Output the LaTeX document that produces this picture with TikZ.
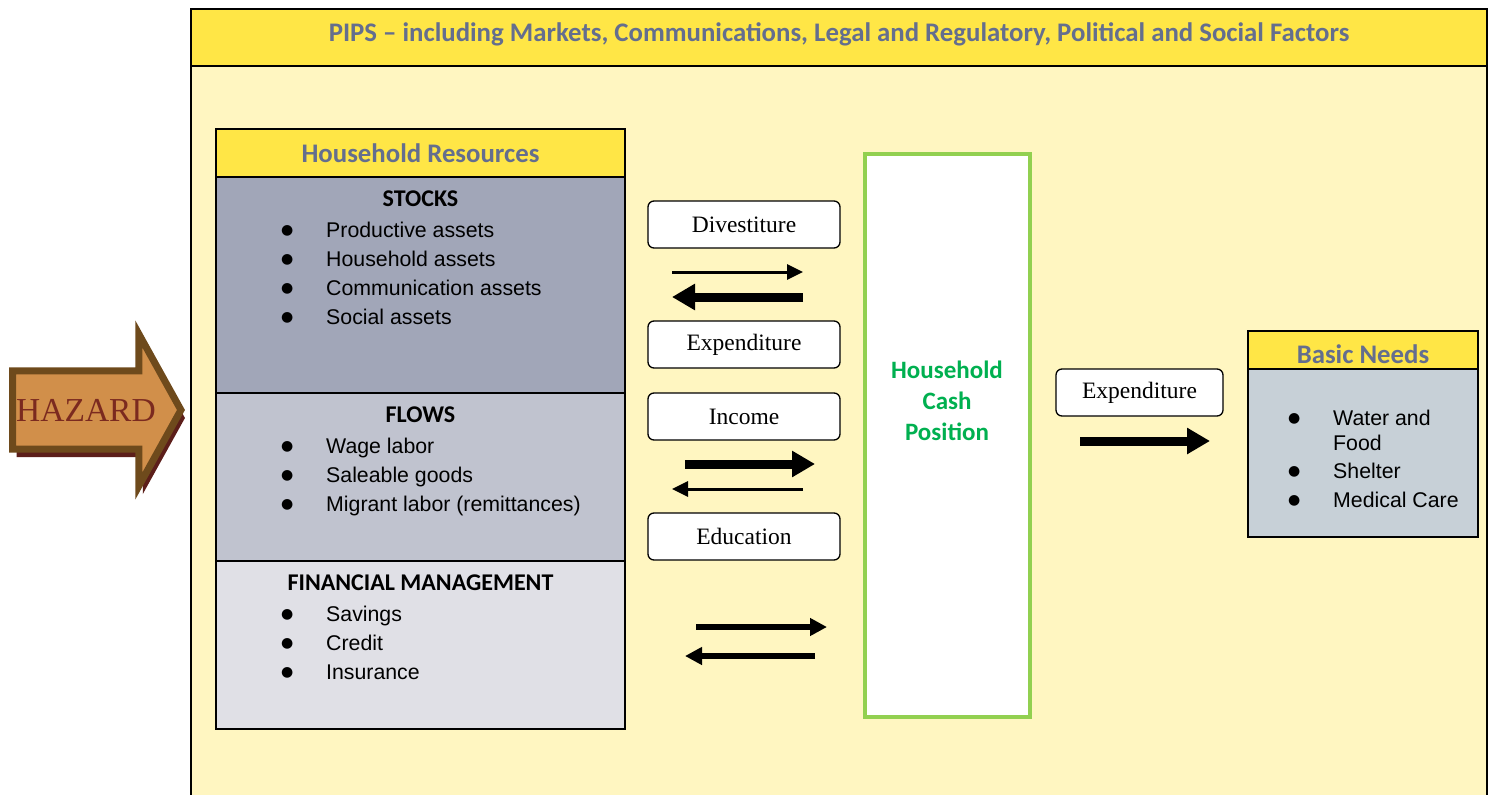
\documentclass[tikz,border=0pt]{standalone}
\usepackage{fontspec}
\setmainfont{Liberation Serif}
\setsansfont{Liberation Sans}
\newfontfamily\carlito{Carlito}
\newfontfamily\dejavu{DejaVu Sans}
\usetikzlibrary{shapes.arrows, arrows.meta, positioning, calc, shadows}

\definecolor{pipsyellow}{HTML}{FFE646}
\definecolor{pipsbg}{HTML}{FFF6C1}
\definecolor{headblue}{HTML}{646E8E}
\definecolor{stockfill}{HTML}{A1A6B8}
\definecolor{flowfill}{HTML}{C0C3CF}
\definecolor{finfill}{HTML}{E0E0E6}
\definecolor{needfill}{HTML}{C7D0D7}
\definecolor{cashframe}{HTML}{92D050}
\definecolor{cashtext}{HTML}{00B050}
\definecolor{hazfill}{HTML}{D18F4A}
\definecolor{hazline}{HTML}{6E4A1C}
\definecolor{hazshadow}{HTML}{5C1E1A}
\definecolor{haztext}{HTML}{7B2A1F}

\newcommand{\itm}[1]{\makebox[45pt][l]{\raisebox{2.5pt}{\dejavu\fontsize{14}{14}\selectfont ●}}#1}

\begin{document}
\begin{tikzpicture} [
    x=1pt, y=-1pt,
    box/.style={rectangle, draw=black, line width=1.5pt, outer sep=0pt, inner sep=0pt, minimum width=409pt},
    yellowhead/.style={box, fill=pipsyellow, text=headblue, font=\carlito\bfseries\fontsize{26.8}{30}\selectfont},
    boxhead/.style={inner sep=0pt, font=\carlito\bfseries\fontsize{24}{28}\selectfont},
    itemlist/.style={anchor=north west, inner sep=0pt, align=left, font=\sffamily\fontsize{21.3}{29}\selectfont},
    tagbox/.style={rectangle, rounded corners=6pt, draw=black, line width=1.3pt, fill=white, outer sep=0pt, minimum width=192pt, minimum height=47pt, font=\fontsize{23.5}{26}\selectfont},
    thinarr/.style={line width=3pt, -{Triangle[length=16pt, width=15pt]}},
    midarr/.style={line width=6pt, -{Triangle[length=17pt, width=17pt]}},
    thickarr/.style={line width=9pt, -{Triangle[length=23pt, width=25pt]}}
]
\useasboundingbox (0,0) rectangle (1494,795);

% Frame and PIPS band
\node[box, fill=pipsbg, minimum width=1296pt, minimum height=830pt, anchor=north west] (frame) at (191,9) {};
\node[yellowhead, minimum width=1296pt, minimum height=57pt, anchor=north west, text height=19pt, text depth=11pt] (pips) at (191,9) {PIPS – including Markets, Communications, Legal and Regulatory, Political and Social Factors};

% Hazard
\node[single arrow, draw=hazline, line width=7pt, fill=hazfill, minimum height=157.5pt, minimum width=145pt, single arrow head extend=37pt, single arrow tip angle=122, inner xsep=0pt, inner ysep=24.5pt, text=haztext, font=\fontsize{33.5}{36}\selectfont, drop shadow={shadow xshift=4pt, shadow yshift=-8pt, fill=hazshadow, opacity=1}] (hazard) at (86,410) {HAZARD};

% Household resources
\node[yellowhead, minimum height=48pt] (hhres) at (420.5,153) {Household Resources};
\node[box, fill=stockfill, minimum height=216pt, below=0pt of hhres] (stocks) {};
\node[box, fill=flowfill, minimum height=168pt, below=0pt of stocks] (flows) {};
\node[box, fill=finfill, minimum height=168pt, below=0pt of flows] (finmgmt) {};

\node[boxhead, below=14pt of stocks.north] (stocks_head) {STOCKS};
\node[itemlist] (stocks_items) at ($(stocks.north west)+(65,44.5)$) {\itm{Productive assets}\\\itm{Household assets}\\\itm{Communication assets}\\\itm{Social assets}};
\node[boxhead, below=14pt of flows.north] (flows_head) {FLOWS};
\node[itemlist] (flows_items) at ($(flows.north west)+(65,44.5)$) {\itm{Wage labor}\\\itm{Saleable goods}\\\itm{Migrant labor (remittances)}};
\node[boxhead, below=14pt of finmgmt.north] (fin_head) {FINANCIAL MANAGEMENT};
\node[itemlist] (fin_items) at ($(finmgmt.north west)+(65,44.5)$) {\itm{Savings}\\\itm{Credit}\\\itm{Insurance}};

% Exchange labels
\node[tagbox] (divest) at (744,224.5) {Divestiture};
\node[tagbox, below=73pt of divest] (expend) {Expenditure};
\node[tagbox, below=25pt of expend] (income) {Income};
\node[tagbox, below=73pt of income] (educ) {Education};

% Cash position
\node[rectangle, draw=cashframe, line width=4pt, fill=white, minimum width=165pt, minimum height=563pt] (cash) at (947.5,435.5) {};
\node[text=cashtext, align=center, font=\carlito\bfseries\fontsize{25}{31}\selectfont] (cash_label) at (947,401) {Household\\Cash\\Position};

% Basic needs
\node[tagbox, minimum width=167pt] (spend) at (1139.5,392.5) {Expenditure};
\node[yellowhead, minimum width=230pt, minimum height=38pt, text height=27pt, text depth=0pt] (needs_head) at (1363,350) {Basic Needs};
\node[box, fill=needfill, minimum width=230pt, minimum height=168pt, below=0pt of needs_head] (needs) {};
\node[itemlist, font=\sffamily\fontsize{21.3}{25}\selectfont] (needs_items) at ($(needs.north west)+(40,40.5)$) {\itm{Water and}\\\makebox[45pt]{}Food\\[3pt]\itm{Shelter}\\[4pt]\itm{Medical Care}};

% Arrow ends
\coordinate (div_out_a) at (672,272);
\coordinate (div_out_b) at (803,272);
\coordinate (div_in_a) at (803,297);
\coordinate (div_in_b) at (672,297);
\coordinate (inc_out_a) at (685,464);
\coordinate (inc_out_b) at (815,464);
\coordinate (inc_in_a) at (803,489);
\coordinate (inc_in_b) at (672,489);
\coordinate (fin_out_a) at (696,627);
\coordinate (fin_out_b) at (827,627);
\coordinate (fin_in_a) at (815,656);
\coordinate (fin_in_b) at (685,656);
\coordinate (spend_a) at (1080,441);
\coordinate (spend_b) at (1210,441);

% Arrows
\draw[thinarr] (div_out_a) -- (div_out_b);
\draw[thickarr] (div_in_a) -- (div_in_b);
\draw[thickarr] (inc_out_a) -- (inc_out_b);
\draw[thinarr] (inc_in_a) -- (inc_in_b);
\draw[midarr] (fin_out_a) -- (fin_out_b);
\draw[midarr] (fin_in_a) -- (fin_in_b);
\draw[thickarr] (spend_a) -- (spend_b);

\end{tikzpicture}
\end{document}
